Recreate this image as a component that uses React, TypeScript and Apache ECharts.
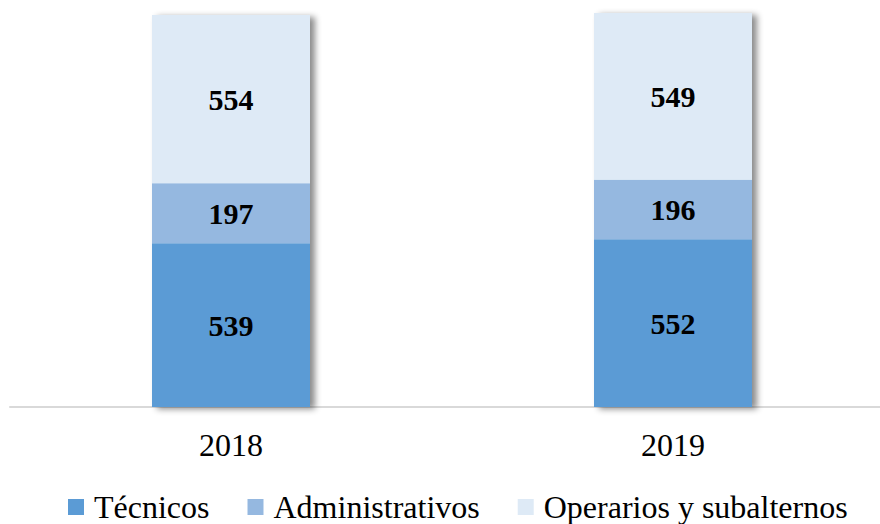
import React, { useEffect, useRef } from "react";
import * as echarts from "echarts";

const categories = ["2018", "2019"];
const tecnicos = [539, 552];
const administrativos = [197, 196];
const operarios = [554, 549];
const seriesNames = ["Técnicos", "Administrativos", "Operarios y subalternos"];
const colors = ["#5B9BD5", "#95B8E0", "#DEEAF6"];

const FONT = "'Times New Roman', 'Liberation Serif', serif";

export default function App() {
  const ref = useRef<HTMLDivElement>(null);
  useEffect(() => {
    if (!ref.current) return;
    const chart = echarts.init(ref.current, null, { renderer: "svg" });
    const totals = categories.map((_, i) => tecnicos[i] + administrativos[i] + operarios[i]);
    const mk = (name: string, data: number[], color: string) => ({
      name,
      type: "bar",
      stack: "total",
      data,
      barWidth: 158,
      barGap: "-100%",
      z: 3,
      itemStyle: { color },
      label: {
        show: true,
        position: "inside",
        color: "#000",
        fontFamily: FONT,
        fontWeight: "bold",
        fontSize: 30,
      },
    });
    chart.setOption({
      animation: false,
      backgroundColor: "#fff",
      grid: {
        left: 10,
        width: 884,
        top: 12,
        bottom: 117,
        containLabel: false,
        outerBoundsMode: "none",
      },
      xAxis: {
        type: "category",
        data: categories,
        axisLine: { lineStyle: { color: "#d9d9d9", width: 2 } },
        axisTick: { show: false },
        axisLabel: {
          color: "#000",
          fontFamily: FONT,
          fontSize: 32,
          margin: 22,
        },
      },
      yAxis: {
        type: "value",
        min: 0,
        max: 1300,
        show: false,
        splitLine: { show: false },
      },
      legend: {
        left: 68,
        top: 491,
        padding: 0,
        itemGap: 38,
        itemWidth: 16,
        itemHeight: 16,
        icon: "rect",
        textStyle: {
          color: "#000",
          fontFamily: FONT,
          fontSize: 32,
          padding: [0, 0, 0, 5],
        },
        data: seriesNames,
      },
      series: [
        {
          name: "shadow",
          type: "bar",
          data: totals,
          barWidth: 158,
          barGap: "-100%",
          z: 1,
          silent: true,
          label: { show: false },
          itemStyle: {
            color: colors[2],
            shadowColor: "rgba(0,0,0,0.45)",
            shadowBlur: 6,
            shadowOffsetX: 5,
            shadowOffsetY: 2,
          },
        },
        mk(seriesNames[0], tecnicos, colors[0]),
        mk(seriesNames[1], administrativos, colors[1]),
        mk(seriesNames[2], operarios, colors[2]),
      ],
    });
    return () => chart.dispose();
  }, []);
  return (
    <div
      ref={ref}
      style={{ position: "absolute", left: 0, top: 0, width: 880, height: 524, overflow: "hidden" }}
    />
  );
}
